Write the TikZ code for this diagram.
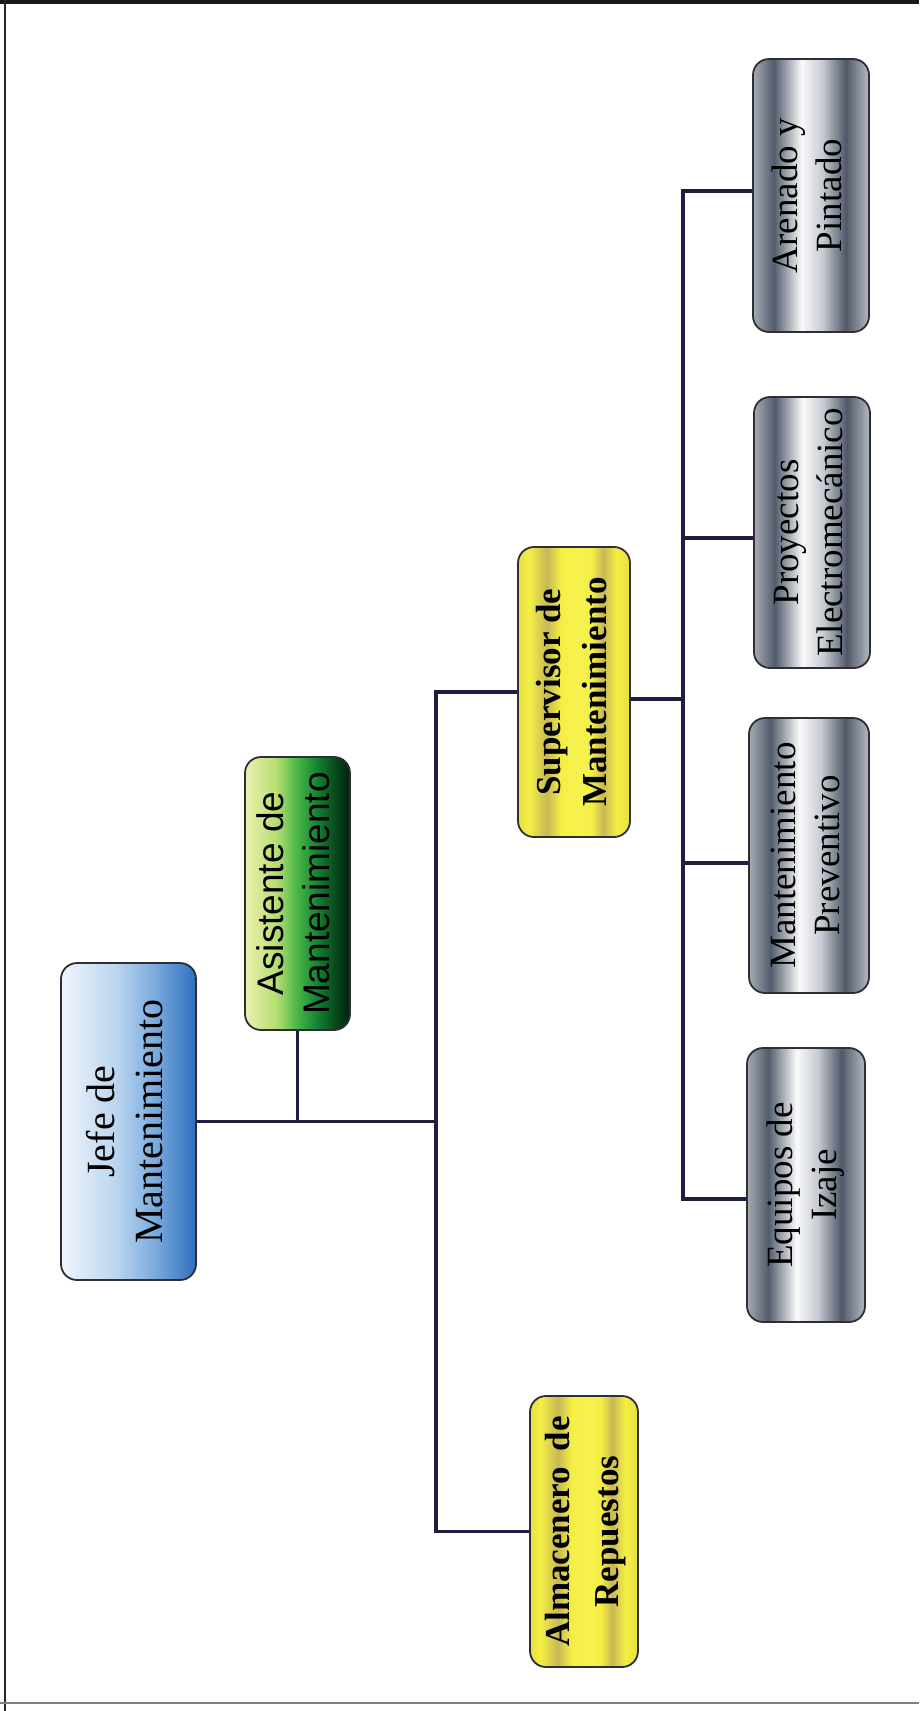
\documentclass[tikz,border=0pt]{standalone}
\usepackage{fontspec}
\usepackage{graphicx}
\setmainfont{Liberation Serif}
\newfontfamily\arialfam{Liberation Sans}

% colours
\definecolor{linkc}{HTML}{1E1E44}
\definecolor{boxline}{HTML}{2E2E36}
% chrome (grey) boxes
\definecolor{chA}{HTML}{A6ABB3}
\definecolor{chB}{HTML}{525C6C}
\definecolor{chC}{HTML}{FAFAFA}
\definecolor{chD}{HTML}{C6CAD1}
\definecolor{chE}{HTML}{505868}
\definecolor{chF}{HTML}{B6BAC2}
% blue
\definecolor{blA}{HTML}{F0F5FB}
\definecolor{blB}{HTML}{BCD6EF}
\definecolor{blC}{HTML}{7AAADD}
\definecolor{blD}{HTML}{2F6EBE}
% green
\definecolor{grA}{HTML}{EEF0B2}
\definecolor{grB}{HTML}{B6DE70}
\definecolor{grC}{HTML}{46B646}
\definecolor{grD}{HTML}{117E30}
\definecolor{grE}{HTML}{064219}
\definecolor{grF}{HTML}{02200E}
% yellow
\definecolor{ylA}{HTML}{E8E040}
\definecolor{ylB}{HTML}{F4EE44}
\definecolor{ylS}{HTML}{C8B856}
\definecolor{ylC}{HTML}{F8F250}

\pgfdeclarehorizontalshading{chromeshade}{100bp}{color(0bp)=(chA); color(25bp)=(chA); color(34bp)=(chB); color(46bp)=(chC); color(55bp)=(chD); color(65bp)=(chE); color(75bp)=(chF); color(100bp)=(chF)}
\pgfdeclarehorizontalshading{blueshade}{100bp}{color(0bp)=(blA); color(25bp)=(blA); color(45bp)=(blB); color(60bp)=(blC); color(75bp)=(blD); color(100bp)=(blD)}
\pgfdeclarehorizontalshading{greenshade}{100bp}{color(0bp)=(grA); color(25bp)=(grA); color(40bp)=(grB); color(50bp)=(grC); color(60bp)=(grD); color(69bp)=(grE); color(75bp)=(grF); color(100bp)=(grF)}
\pgfdeclarehorizontalshading{yellowshade}{100bp}{color(0bp)=(ylA); color(25bp)=(ylA); color(30bp)=(ylB); color(38bp)=(ylS); color(44bp)=(ylB); color(52bp)=(ylC); color(58bp)=(ylB); color(63bp)=(ylS); color(69bp)=(ylB); color(75bp)=(ylA); color(100bp)=(ylA)}

% two lines of text set from bottom to top
\newcommand\uplines[2]{\rotatebox{90}{\begin{tabular}{@{}c@{}}#1\\#2\end{tabular}}}

\begin{document}
\begin{tikzpicture}[x=1pt,y=-1pt,
  box/.style={draw=boxline, line width=1.8pt, rounded corners=16pt, inner sep=0pt, shade},
  chrome/.style={box, shading=chromeshade, font=\fontsize{37}{44}\selectfont},
  bluebox/.style={box, shading=blueshade, font=\fontsize{40}{48}\selectfont},
  greenbox/.style={box, shading=greenshade, font=\arialfam\fontsize{37}{46}\selectfont},
  yellowbox/.style={box, shading=yellowshade, font=\bfseries\fontsize{35}{46}\selectfont},
  link/.style={draw=linkc, line width=3.4pt, line join=miter}]

\useasboundingbox (0,0) rectangle (919,1711);

% page frame
\draw[line width=4pt, black!90] (0,2) -- (919,2);
\draw[line width=2.5pt, black!85] (5,0) -- (5,1711);
\draw[line width=1.5pt, black!50] (0,1703) -- (919,1703);

% positions of the two vertical buses
\coordinate (mainbus) at (436,0);
\coordinate (subbus) at (683,0);

% units
\node[bluebox, minimum width=135pt, minimum height=317pt] (jefe) at (128.5,1121.5) {\uplines{Jefe de}{Mantenimiento}};
\node[greenbox, minimum width=105pt, minimum height=273pt] (asistente) at (297.5,893.5) {\uplines{Asistente de}{Mantenimiento}};
\node[yellowbox, minimum width=112pt, minimum height=290pt] (supervisor) at (574,692) {\uplines{Supervisor de}{Mantenimiento}};
\node[yellowbox, font=\bfseries\fontsize{35}{49}\selectfont, minimum width=108pt, minimum height=271pt] (almacenero) at (584,1531.5) {\uplines{Almacenero\hspace{0.45em}de}{Repuestos}};
\node[chrome, minimum width=116pt, minimum height=273pt] (arenado) at (811,195.5) {\uplines{Arenado y}{Pintado}};
\node[chrome, minimum width=116pt, minimum height=271pt] (proyectos) at (812,532.5) {\uplines{Proyectos}{Electromecánico}};
\node[chrome, minimum width=120pt, minimum height=275pt] (preventivo) at (809,855.5) {\uplines{Mantenimiento}{Preventivo}};
\node[chrome, minimum width=118pt, minimum height=274pt] (equipos) at (806,1185) {\uplines{Equipos de}{Izaje}};

% connectors
\draw[link] (jefe.east) -- (jefe.east -| mainbus);
\draw[link] (asistente.south) -- (asistente.south |- jefe.east);
\draw[link] (supervisor.west) -- (supervisor.west -| mainbus)
  -- (almacenero.west -| mainbus) -- (almacenero.west);
\draw[link] ([yshift=-7pt]supervisor.east) -- ([yshift=-7pt]supervisor.east -| subbus);
\draw[link] ([yshift=4.5pt]arenado.west) -- ([yshift=4.5pt]arenado.west -| subbus)
  -- ([yshift=-14pt]equipos.west -| subbus) -- ([yshift=-14pt]equipos.west);
\draw[link] ([yshift=-5.5pt]proyectos.west) -- ([yshift=-5.5pt]proyectos.west -| subbus);
\draw[link] ([yshift=-7.5pt]preventivo.west) -- ([yshift=-7.5pt]preventivo.west -| subbus);
\end{tikzpicture}
\end{document}
